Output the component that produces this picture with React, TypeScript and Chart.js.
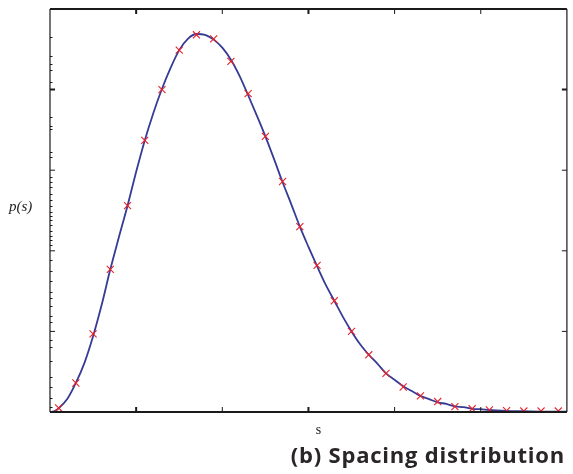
import React, { useEffect, useRef } from "react";
import { Chart, registerables } from "chart.js";

Chart.register(...registerables);

// Marker (data) positions
const markerS = [0.1, 0.3, 0.5, 0.7, 0.9, 1.1, 1.3, 1.5, 1.7, 1.9, 2.1, 2.3, 2.5, 2.7, 2.9, 3.1, 3.3, 3.5, 3.7, 3.9, 4.1, 4.3, 4.5, 4.7, 4.9, 5.1, 5.3, 5.5, 5.7, 5.9];
const markerP = [0.05, 0.36, 0.97, 1.77, 2.56, 3.37, 4.0, 4.49, 4.68, 4.63, 4.35, 3.95, 3.42, 2.86, 2.3, 1.82, 1.38, 1.0, 0.71, 0.48, 0.31, 0.2, 0.13, 0.066, 0.04, 0.025, 0.016, 0.012, 0.012, 0.012];

// Fitted curve
const curveS = [0.02, 0.06, 0.1, 0.2, 0.3, 0.4, 0.5, 0.6, 0.7, 0.8, 0.9, 1.0, 1.1, 1.2, 1.3, 1.4, 1.5, 1.6, 1.7, 1.8, 1.9, 2.0, 2.1, 2.2, 2.3, 2.4, 2.5, 2.6, 2.7, 2.8, 2.9, 3.0, 3.1, 3.2, 3.3, 3.4, 3.5, 3.6, 3.7, 3.8, 3.9, 4.0, 4.1, 4.2, 4.3, 4.4, 4.5, 4.6, 4.7, 4.8, 4.9, 5.0, 5.1, 5.3, 5.5, 5.7, 6.0];
const curveP = [0.0, 0.015, 0.045, 0.16, 0.36, 0.61, 0.94, 1.33, 1.77, 2.17, 2.56, 2.98, 3.37, 3.71, 4.01, 4.27, 4.49, 4.63, 4.69, 4.68, 4.62, 4.52, 4.37, 4.17, 3.93, 3.68, 3.42, 3.14, 2.85, 2.58, 2.3, 2.05, 1.81, 1.58, 1.38, 1.18, 1.0, 0.84, 0.71, 0.6, 0.48, 0.4, 0.32, 0.26, 0.2, 0.16, 0.12, 0.1, 0.07, 0.06, 0.04, 0.035, 0.025, 0.015, 0.01, 0.005, 0.003];

// Axis ticks
const xMajorTicks = [1, 2, 3, 4, 5];
const yMajorTicks = [1, 2, 3, 4];
const yMinorTicks = [4.65, 4.42, 4.32, 4.24, 4.09, 3.66, 3.55, 3.51, 3.23, 3.16, 2.92, 2.85, 2.79, 2.7, 2.63, 2.56, 2.48, 2.43, 2.38, 2.32, 2.25, 2.18, 2.13, 2.07, 1.89, 1.75, 1.63, 1.49, 1.41, 1.32, 1.19, 1.12, 0.89, 0.81, 0.63, 0.43, 0.31, 0.17, 0.06];

const xLabel = "s";
const yLabel = "p(s)";
const titleText = "(b) Spacing distribution";

const framePlugin = {
  id: "frame",
  afterDatasetsDraw(chart: any) {
    const { ctx, chartArea, scales } = chart;
    const { left, right, top, bottom } = chartArea;
    const xs = scales.x;
    const ys = scales.y;
    ctx.save();
    ctx.strokeStyle = "#1a1a1a";
    // frame
    ctx.lineWidth = 2;
    ctx.beginPath();
    ctx.moveTo(left, top);
    ctx.lineTo(right, top);
    ctx.moveTo(left, bottom);
    ctx.lineTo(right, bottom);
    ctx.stroke();
    ctx.lineWidth = 1.2;
    ctx.beginPath();
    ctx.moveTo(left, top);
    ctx.lineTo(left, bottom);
    ctx.moveTo(right, top);
    ctx.lineTo(right, bottom);
    ctx.stroke();
    // x major ticks (inward, top and bottom)
    xMajorTicks.forEach((v, i) => {
      const px = xs.getPixelForValue(v);
      ctx.lineWidth = i === 0 || i === 2 ? 2 : 1;
      ctx.beginPath();
      ctx.moveTo(px, top);
      ctx.lineTo(px, top + 5);
      ctx.moveTo(px, bottom);
      ctx.lineTo(px, bottom - 5);
      ctx.stroke();
    });
    // y major ticks
    yMajorTicks.forEach((v, i) => {
      const py = ys.getPixelForValue(v);
      ctx.lineWidth = i === 3 ? 2 : 1;
      ctx.beginPath();
      ctx.moveTo(left, py);
      ctx.lineTo(left + 5, py);
      ctx.moveTo(right, py);
      ctx.lineTo(right - 5, py);
      ctx.stroke();
    });
    // y minor ticks (left only)
    ctx.lineWidth = 1;
    ctx.beginPath();
    yMinorTicks.forEach((v) => {
      const py = Math.round(ys.getPixelForValue(v)) + 0.5;
      ctx.moveTo(left, py);
      ctx.lineTo(left + 2.5, py);
    });
    ctx.stroke();

    // labels
    ctx.fillStyle = "#222";
    ctx.font = "italic 15px 'Liberation Serif', 'DejaVu Serif', serif";
    ctx.textAlign = "left";
    ctx.textBaseline = "middle";
    ctx.fillText(yLabel, 9, 207);
    ctx.font = "14px 'Liberation Serif', 'DejaVu Serif', serif";
    ctx.textAlign = "center";
    ctx.fillText(xLabel, xs.getPixelForValue(3) + 10, 430);
    ctx.font = "bold 22px 'Open Sans', 'DejaVu Sans', sans-serif";
    ctx.fillStyle = "#2a2627";
    ctx.textAlign = "right";
    ctx.textBaseline = "alphabetic";
    try { (ctx as any).letterSpacing = "0.8px"; } catch (e) {}
    ctx.fillText(titleText, 565, 463);
    ctx.restore();
  },
};

export default function App() {
  const ref = useRef<HTMLCanvasElement | null>(null);
  useEffect(() => {
    if (!ref.current) return;
    const chart = new Chart(ref.current, {
      type: "line",
      data: {
        datasets: [
          {
            label: "fit",
            data: curveS.map((s, i) => ({ x: s, y: curveP[i] })),
            borderColor: "#363b95",
            borderWidth: 1.8,
            pointRadius: 0,
            cubicInterpolationMode: "monotone",
            fill: false,
            order: 2,
          },
          {
            label: "data",
            data: markerS.map((s, i) => ({ x: s, y: markerP[i] })),
            showLine: false,
            pointStyle: "crossRot",
            pointRadius: 5,
            pointBorderColor: "#e8232b",
            pointBorderWidth: 1.1,
            borderColor: "#e8232b",
            order: 1,
          },
        ],
      },
      options: {
        animation: false,
        responsive: true,
        maintainAspectRatio: false,
        layout: { padding: { left: 50, right: 4, top: 9, bottom: 62 } },
        plugins: { legend: { display: false }, tooltip: { enabled: false }, title: { display: false } },
        scales: {
          x: { type: "linear", min: 0, max: 6, display: false },
          y: { type: "linear", min: 0, max: 5, display: false },
        },
      },
      plugins: [framePlugin],
    });
    return () => chart.destroy();
  }, []);
  return (
    <div style={{ position: "absolute", left: 0, top: 0, width: 573, height: 474, background: "#fff" }}>
      <canvas ref={ref} />
    </div>
  );
}
